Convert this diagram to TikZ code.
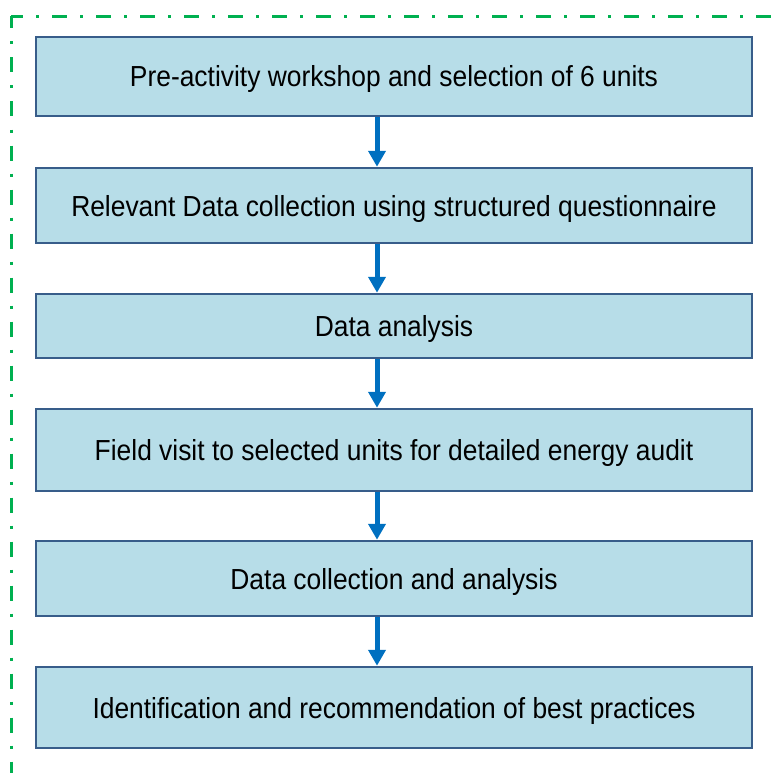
\documentclass[tikz,border=0pt]{standalone}
\usepackage{fontspec}
\setmainfont{Liberation Sans}[FakeStretch=0.91]
\usetikzlibrary{arrows.meta}
\definecolor{boxfill}{HTML}{B7DDE8}
\definecolor{boxline}{HTML}{385D8A}
\definecolor{flowblue}{HTML}{0070C0}
\definecolor{framegreen}{HTML}{00B050}
\tikzset{
  stepbox/.style={draw=boxline, fill=boxfill, line width=2.5pt, rectangle,
    minimum width=716pt, inner sep=0pt, font=\fontsize{29pt}{34pt}\selectfont,
    text height=21pt, text depth=0pt},
  flow/.style={draw=flowblue, line width=5pt,
    -{Triangle[width=17pt,length=16pt]}, shorten >=0pt},
  frame/.style={draw=framegreen, line width=3pt,
    dash pattern=on 15pt off 13pt on 3pt off 13pt, dash phase=3pt}
}
\begin{document}
\begin{tikzpicture}[x=1pt,y=-1pt]
  \useasboundingbox (0,0) rectangle (771,773);
  % open dash-dot frame along the top and left edges
  \coordinate (corner) at (11,16.5);
  \coordinate (topend) at (775,16.5);
  \coordinate (leftend) at (11,777);
  \draw[frame] (corner) -- (topend);
  \draw[frame] (corner) -- (leftend);
  % process steps
  \node[stepbox, minimum height=79pt] (s1) at (394,76.5) {Pre-activity workshop and selection of 6 units};
  \node[stepbox, minimum height=75pt] (s2) at (394,205.5) {Relevant Data collection using structured questionnaire};
  \node[stepbox, minimum height=64pt] (s3) at (394,326) {Data analysis};
  \node[stepbox, minimum height=82pt] (s4) at (394,450) {Field visit to selected units for detailed energy audit};
  \node[stepbox, minimum height=75pt] (s5) at (394,578.5) {Data collection and analysis};
  \node[stepbox, minimum height=81pt] (s6) at (394,707.5) {Identification and recommendation of best practices};
  % flow arrows
  \coordinate (ax) at (377,0);
  \foreach \a/\b in {s1/s2,s2/s3,s3/s4,s4/s5,s5/s6}
    \draw[flow] (\a.south -| ax) -- (\b.north -| ax);
\end{tikzpicture}
\end{document}
